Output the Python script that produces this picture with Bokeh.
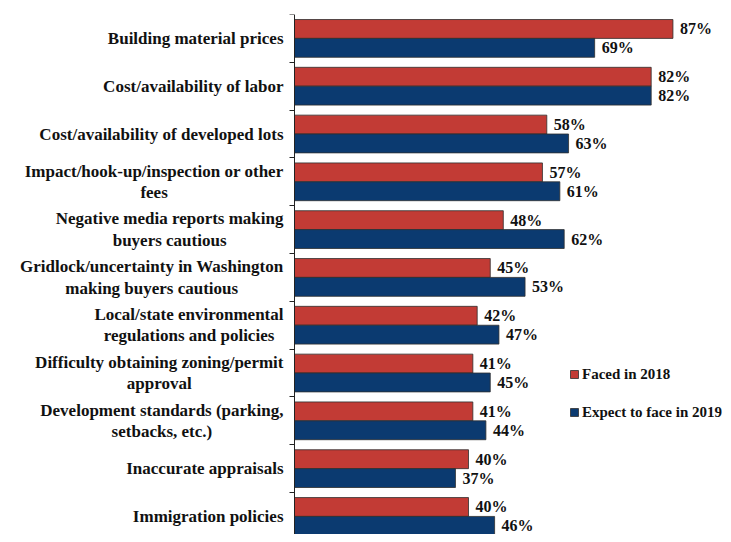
from bokeh.plotting import figure
from bokeh.models import ColumnDataSource, Range1d, FixedTicker, Legend, LegendItem
from bokeh.core.properties import value
from bokeh.embed import file_html
from bokeh.resources import INLINE

categories = [
    "Building material prices",
    "Cost/availability of labor",
    "Cost/availability of developed lots",
    "Impact/hook-up/inspection or other\nfees",
    "Negative media reports making\nbuyers cautious",
    "Gridlock/uncertainty in Washington\nmaking buyers cautious",
    "Local/state environmental\nregulations and policies",
    "Difficulty obtaining zoning/permit\napproval",
    "Development standards (parking,\nsetbacks, etc.)",
    "Inaccurate appraisals",
    "Immigration policies",
]
faced_2018 = [87, 82, 58, 57, 48, 45, 42, 41, 41, 40, 40]
expect_2019 = [69, 82, 63, 61, 62, 53, 47, 45, 44, 37, 46]
series_names = ["Faced in 2018", "Expect to face in 2019"]

RED = "#C23B35"
BLUE = "#0B3A70"
FONT = "Liberation Serif"

n = len(categories)
pos = list(range(n))
bar_h = 0.395

src18 = ColumnDataSource(dict(
    y=[i - bar_h / 2 for i in pos], v=faced_2018,
    lab=[f"{v}%" for v in faced_2018]))
src19 = ColumnDataSource(dict(
    y=[i + bar_h / 2 for i in pos], v=expect_2019,
    lab=[f"{v}%" for v in expect_2019]))
src_cat = ColumnDataSource(dict(y=pos, x=[0] * n, cat=categories))

# frame spans the whole width; the value axis (0) sits at 294 px
px_per_pct = 4.35
p = figure(width=723, height=534, output_backend="svg", toolbar_location=None,
           x_range=Range1d(-294 / px_per_pct, 429 / px_per_pct),
           y_range=Range1d(start=10.378, end=-0.5),
           min_border_left=0, min_border_right=0, min_border_top=14,
           min_border_bottom=0)
p.outline_line_color = None
p.xgrid.visible = False
p.ygrid.visible = False
p.xaxis.visible = False
p.background_fill_color = "white"
p.border_fill_color = "white"

r18 = p.hbar(y="y", left=0, right="v", height=bar_h, source=src18,
             fill_color=RED, line_color="#2f2f2f", line_width=0.8)
r19 = p.hbar(y="y", left=0, right="v", height=bar_h, source=src19,
             fill_color=BLUE, line_color="#2f2f2f", line_width=0.8)

for s in (src18, src19):
    p.text(x="v", y="y", text="lab", source=s, x_offset=7,
           text_baseline="middle", text_align="left",
           text_font=value(FONT), text_font_style="bold",
           text_font_size="16px", text_color="#111111")

# category labels: block right-anchored next to the axis, lines centred
p.text(x="x", y="y", text="cat", source=src_cat, x_offset=-11,
       anchor="center_right", text_align="center", text_baseline="middle",
       text_font=value(FONT), text_font_style="bold",
       text_font_size="17px", text_line_height=1.13, text_color="#111111")

ax = p.yaxis[0]
ax.fixed_location = 0
ax.ticker = FixedTicker(ticks=[], minor_ticks=[i - 0.5 for i in range(n + 1)])
ax.major_tick_line_color = None
ax.major_tick_out = 0
ax.major_tick_in = 0
ax.minor_tick_out = 5
ax.minor_tick_in = 0
ax.minor_tick_line_color = "#222222"
ax.axis_line_color = "#222222"
ax.major_label_text_font_size = "0px"

legend = Legend(items=[LegendItem(label=series_names[0], renderers=[r18]),
                       LegendItem(label=series_names[1], renderers=[r19])],
                location=(569, 112))
legend.glyph_width = 10
legend.glyph_height = 10
legend.label_height = 20
legend.spacing = 18
legend.padding = 0
legend.margin = 0
legend.label_standoff = 3
legend.border_line_color = None
legend.background_fill_alpha = 0
legend.label_text_font = FONT
legend.label_text_font_style = "bold"
legend.label_text_font_size = "15px"
legend.label_text_color = "#111111"
p.add_layout(legend)

open("out.html", "w").write(file_html(p, INLINE))
